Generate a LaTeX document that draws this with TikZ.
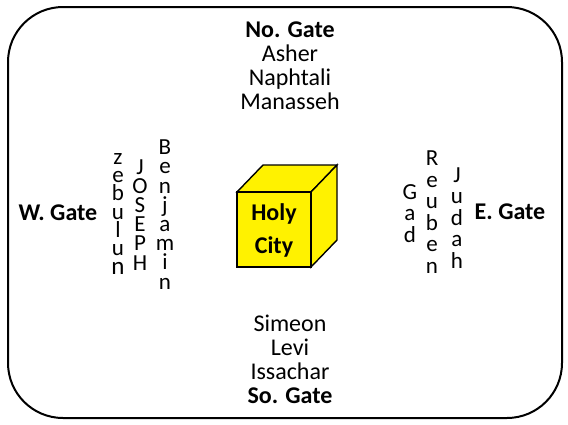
\documentclass[tikz,border=0pt]{standalone}
\usepackage{fontspec}
\setmainfont{Carlito}
\begin{document}
\begin{tikzpicture}[x=1pt,y=-1pt,
  lbl/.style={font=\fontsize{24}{23.7}\selectfont, align=center, inner sep=0pt, anchor=base},
  gate/.style={font=\fontsize{24}{23.7}\selectfont\bfseries, inner sep=0pt, anchor=base},
  colw/.style={font=\fontsize{23}{19.2}\selectfont, align=center, inner sep=0pt, anchor=base},
  cole/.style={font=\fontsize{23}{21.5}\selectfont, align=center, inner sep=0pt, anchor=base},
  cubeface/.style={draw=black, fill=yellow, line width=1.4pt, line join=miter}]
\useasboundingbox (0,0) rectangle (568,424);
\draw[line width=2pt, rounded corners=55pt] (8,7) rectangle (562,418);
% cube
\coordinate (c1) at (237,192);
\coordinate (c2) at (311,192);
\coordinate (c3) at (311,267);
\filldraw[cubeface] (c1) -- ++(26,-27) -- ++(74,0) -- (c2) -- cycle;
\filldraw[cubeface] (c2) -- ++(26,-27) -- ++(0,75) -- (c3) -- cycle;
\filldraw[cubeface] (c1) rectangle (c3);
\node[gate, align=center, font=\fontsize{24}{33}\selectfont\bfseries] (holy) at (274,253) {Holy\\City};
% north
\node[lbl] (north) at (290,109) {\textbf{No. Gate}\\Asher\\Naphtali\\Manasseh};
% south
\node[lbl] (south) at (290,403) {Simeon\\Levi\\Issachar\\\textbf{So. Gate}};
% west / east
\node[gate] (west) at (58,220) {W. Gate};
\node[gate] (east) at (510,219) {E. Gate};
% vertical names west
\node[colw, font=\fontsize{23}{18.3}\selectfont] (zeb) at (118,274) {z\\e\\b\\u\\l\\u\\{\fontsize{25}{18.3}\selectfont n}};
\node[colw] (jos) at (140,270) {J\\O\\S\\E\\P\\H};
\node[colw] (ben) at (165,289) {B\\e\\n\\j\\a\\m\\i\\n};
% vertical names east
\node[cole] (gad) at (410,242) {G\\a\\d};
\node[cole] (reu) at (432,273) {R\\e\\u\\b\\e\\n};
\node[cole] (jud) at (457,268) {J\\u\\d\\a\\h};
\end{tikzpicture}
\end{document}
